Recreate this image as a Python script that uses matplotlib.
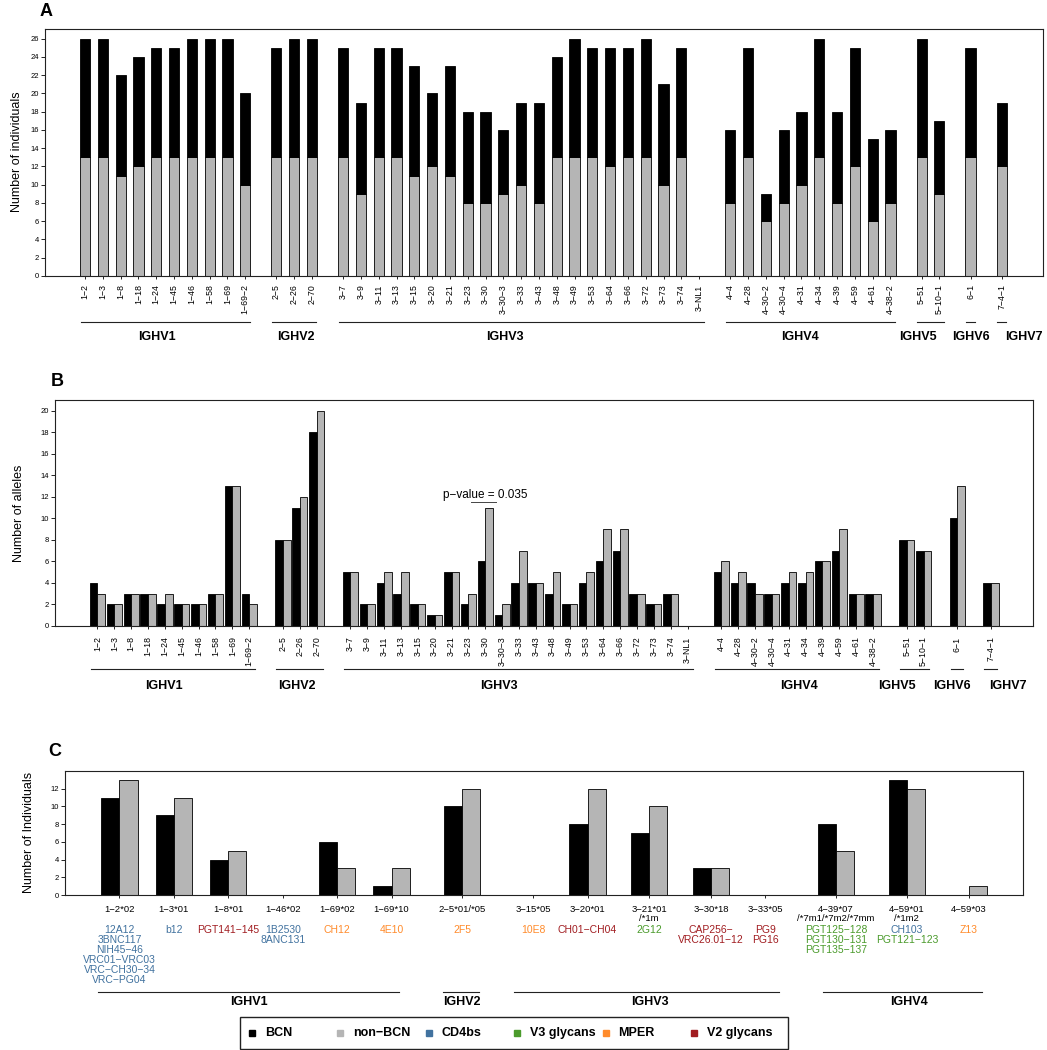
import matplotlib
matplotlib.use("Agg")
import matplotlib.pyplot as plt
import matplotlib.transforms as mtransforms
import numpy as np

plt.rcParams['font.family'] = ['Liberation Sans', 'DejaVu Sans']

W, H = 1047, 1050
MINUS = '\u2212'
GRAY = '#b5b5b5'

# ---- data ----
genes = ["1-2", "1-3", "1-8", "1-18", "1-24", "1-45", "1-46", "1-58", "1-69", "1-69-2",
         "2-5", "2-26", "2-70",
         "3-7", "3-9", "3-11", "3-13", "3-15", "3-20", "3-21", "3-23", "3-30", "3-30-3",
         "3-33", "3-43", "3-48", "3-49", "3-53", "3-64", "3-66", "3-72", "3-73", "3-74", "3-NL1",
         "4-4", "4-28", "4-30-2", "4-30-4", "4-31", "4-34", "4-39", "4-59", "4-61", "4-38-2",
         "5-51", "5-10-1", "6-1", "7-4-1"]

# panel A: number of individuals carrying each gene (stacked)
a_nonbcn = [13, 13, 11, 12, 13, 13, 13, 13, 13, 10,
            13, 13, 13,
            13, 9, 13, 13, 11, 12, 11, 8, 8, 9, 10, 8, 13, 13, 13, 12, 13, 13, 10, 13, 0,
            8, 13, 6, 8, 10, 13, 8, 12, 6, 8,
            13, 9, 13, 12]
a_bcn = [13, 13, 11, 12, 12, 12, 13, 13, 13, 10,
         12, 13, 13,
         12, 10, 12, 12, 12, 8, 12, 10, 10, 7, 9, 11, 11, 13, 12, 13, 12, 13, 11, 12, 0,
         8, 12, 3, 8, 8, 13, 10, 13, 9, 8,
         13, 8, 12, 7]

# panel B: number of alleles
b_bcn = [4, 2, 3, 3, 2, 2, 2, 3, 13, 3,
         8, 11, 18,
         5, 2, 4, 3, 2, 1, 5, 2, 6, 1, 4, 4, 3, 2, 4, 6, 7, 3, 2, 3, 0,
         5, 4, 4, 3, 4, 4, 6, 7, 3, 3,
         8, 7, 10, 4]
b_nonbcn = [3, 2, 3, 3, 3, 2, 2, 3, 13, 2,
            8, 12, 20,
            5, 2, 5, 5, 2, 1, 5, 3, 11, 2, 7, 4, 5, 2, 5, 9, 9, 3, 2, 3, 0,
            6, 5, 3, 3, 5, 5, 6, 9, 3, 3,
            8, 7, 13, 4]

# panel C: alleles used by bNAbs
c_alleles = ["1-2*02", "1-3*01", "1-8*01", "1-46*02", "1-69*02", "1-69*10", "2-5*01/*05",
             "3-15*05", "3-20*01", "3-21*01\n/*1m", "3-30*18", "3-33*05",
             "4-39*07\n/*7m1/*7m2/*7mm", "4-59*01\n/*1m2", "4-59*03"]
c_bcn = [11, 9, 4, 0, 6, 1, 10, 0, 8, 7, 3, 0, 8, 13, 0]
c_nonbcn = [13, 11, 5, 0, 3, 3, 12, 0, 12, 10, 3, 0, 5, 12, 1]
c_antibodies = [
    [("12A12", "CD4bs"), ("3BNC117", "CD4bs"), ("NIH45-46", "CD4bs"),
     ("VRC01-VRC03", "CD4bs"), ("VRC-CH30-34", "CD4bs"), ("VRC-PG04", "CD4bs")],
    [("b12", "CD4bs")],
    [("PGT141-145", "V2 glycans")],
    [("1B2530", "CD4bs"), ("8ANC131", "CD4bs")],
    [("CH12", "MPER")],
    [("4E10", "MPER")],
    [("2F5", "MPER")],
    [("10E8", "MPER")],
    [("CH01-CH04", "V2 glycans")],
    [("2G12", "V3 glycans")],
    [("CAP256-", "V2 glycans"), ("VRC26.01-12", "V2 glycans")],
    [("PG9", "V2 glycans"), ("PG16", "V2 glycans")],
    [("PGT125-128", "V3 glycans"), ("PGT130-131", "V3 glycans"), ("PGT135-137", "V3 glycans")],
    [("CH103", "CD4bs"), ("PGT121-123", "V3 glycans")],
    [("Z13", "MPER")],
]
classes = ["CD4bs", "V3 glycans", "MPER", "V2 glycans"]
class_colors = ["#41729f", "#4b9b2c", "#ff8b2b", "#a11d21"]
color_of = dict(zip(classes, class_colors))

# ---- layout helpers ----
def px_rect(l, t, r, b):
    return [l / W, 1 - b / H, (r - l) / W, (b - t) / H]


def fy(ypx):
    return 1 - ypx / H


def family_positions(names, gap):
    pos, x, prev = [], 0.0, None
    for g in names:
        fam = g.split('-')[0]
        if prev is not None:
            x += gap if fam != prev else 1
        pos.append(x)
        prev = fam
    return np.array(pos)


def style_axes(ax):
    for s in ax.spines.values():
        s.set_linewidth(0.8)
        s.set_color('#222222')
    ax.tick_params(axis='y', labelsize=5.5, length=3, width=0.6, pad=1.5)
    ax.tick_params(axis='x', length=2.5, width=0.6)


def draw_groups(ax, pos, names, pad_l, pad_r, y_line, y_text, label_x):
    tr = mtransforms.blended_transform_factory(ax.transData, fig.transFigure)
    fams = [g.split('-')[0] for g in names]
    order = list(dict.fromkeys(fams))
    for k, fam in enumerate(order):
        idx = [i for i, f in enumerate(fams) if f == fam]
        x0, x1 = pos[idx[0]] - pad_l, pos[idx[-1]] + pad_r
        ax.plot([x0, x1], [fy(y_line)] * 2, transform=tr, color='#222222',
                lw=0.8, clip_on=False)
        ax.text(label_x[k], fy(y_text), 'IGHV' + fam, transform=tr, ha='center',
                va='center', fontsize=9, fontweight='bold')


fig = plt.figure(figsize=(W / 100, H / 100), dpi=100)

# ---- panel A ----
axA = fig.add_axes(px_rect(45, 29, 1043, 276))
posA = family_positions(genes, 1.75)
axA.bar(posA, a_nonbcn, width=0.57, color=GRAY, edgecolor='black', linewidth=0.6)
axA.bar(posA, a_bcn, bottom=a_nonbcn, width=0.57, color='black',
        edgecolor='black', linewidth=0.6)
axA.set_xlim(-2.25, 53.82)
axA.set_ylim(0, 27.05)
axA.set_yticks(range(0, 27, 2))
axA.set_xticks(posA)
axA.set_xticklabels([g.replace('-', MINUS) for g in genes], rotation=90, fontsize=6.3)
style_axes(axA)
axA.tick_params(axis='x', pad=3.5)
draw_groups(axA, posA, genes, 0.25, 0.25, 322, 337,
            [4.05, 11.83, 23.58, 40.15, 46.8, 49.78, 52.75])

# ---- panel B ----
axB = fig.add_axes(px_rect(55, 400, 1033, 626))
posB = family_positions(genes, 2.0)
bw = 0.45
axB.bar(posB - bw, b_bcn, width=bw, align='edge', color='black',
        edgecolor='black', linewidth=0.6)
axB.bar(posB, b_nonbcn, width=bw, align='edge', color=GRAY,
        edgecolor='black', linewidth=0.6)
axB.set_xlim(-2.52, 55.49)
axB.set_ylim(0, 21)
axB.set_yticks(range(0, 21, 2))
axB.set_xticks(posB)
axB.set_xticklabels([g.replace('-', MINUS) for g in genes], rotation=90, fontsize=6.3)
style_axes(axB)
axB.tick_params(axis='x', pad=5)
draw_groups(axB, posB, genes, 0.4, 0.35, 669, 686,
            [3.97, 11.83, 23.8, 41.6, 47.4, 50.7, 54.0])
x330 = posB[genes.index("3-30")]
axB.plot([x330 - 0.85, x330 + 0.65], [11.55, 11.55], color='#444444', lw=0.7)
axB.text(x330, 12.15, "p" + MINUS + "value = 0.035", ha='center', va='center', fontsize=8.5)

# ---- panel C ----
axC = fig.add_axes(px_rect(65, 771, 1023, 895))
c_space = [2, 1, 1, 1, 1, 1, 1.9, 1.9, 1, 1.4, 1.4, 1, 1.9, 1.9, 1.4]
c_left, x = [], 0.0
for s in c_space:
    x += s
    c_left.append(x)
    x += 2
c_left = np.array(c_left)
axC.bar(c_left, c_bcn, width=1, align='edge', color='black', edgecolor='black', linewidth=0.6)
axC.bar(c_left + 1, c_nonbcn, width=1, align='edge', color=GRAY,
        edgecolor='black', linewidth=0.6)
axC.set_xlim(0, x + 2)
axC.set_ylim(0, 14)
axC.set_yticks(range(0, 13, 2))
axC.set_xticks(c_left + 1)
axC.set_xticklabels([a.replace('-', MINUS) for a in c_alleles], fontsize=6.8)
for lbl in axC.get_xticklabels():
    lbl.set_linespacing(1.0)
style_axes(axC)
axC.tick_params(axis='x', pad=5)

trC = mtransforms.blended_transform_factory(axC.transData, fig.transFigure)
for xc, abs_ in zip(c_left + 1, c_antibodies):
    for i, (name, cls) in enumerate(abs_):
        axC.text(xc, fy(930 + 10 * i), name.replace('-', MINUS), transform=trC,
                 ha='center', va='center', fontsize=7.5, color=color_of[cls])

c_group_spans = [(1.83, 18.4), (20.86, 22.8), (24.75, 39.35), (41.76, 50.55)]
c_groups = ["IGHV1", "IGHV2", "IGHV3", "IGHV4"]
c_group_label_x = [10.12, 21.9, 32.25, 46.5]
for (x0, x1), name, lx in zip(c_group_spans, c_groups, c_group_label_x):
    axC.plot([x0, x1], [fy(992)] * 2, transform=trC, color='#222222', lw=0.8, clip_on=False)
    axC.text(lx, fy(1002), name, transform=trC, ha='center', va='center',
             fontsize=9, fontweight='bold')

# ---- legend ----
fig.add_artist(plt.Rectangle((240 / W, fy(1049)), (788 - 240) / W, (1049 - 1017) / H,
                             transform=fig.transFigure, fill=False, lw=1.0,
                             edgecolor='#222222'))
leg_labels = ["BCN", "non" + MINUS + "BCN"] + classes
leg_colors = ["black", GRAY] + class_colors
for i, (lab, col) in enumerate(zip(leg_labels, leg_colors)):
    mx = 252 + 88.4 * i
    fig.add_artist(plt.Line2D([mx / W], [fy(1033)], marker='s', markersize=4,
                              color=col, linestyle='none', transform=fig.transFigure))
    fig.text((mx + 13) / W, fy(1033), lab, ha='left', va='center',
             fontsize=9, fontweight='bold')

# ---- axis titles and panel letters ----
fig.text(17 / W, fy(152), "Number of individuals", rotation=90, ha='center', va='center', fontsize=9)
fig.text(19 / W, fy(513), "Number of alleles", rotation=90, ha='center', va='center', fontsize=9)
fig.text(29 / W, fy(832), "Number of Individuals", rotation=90, ha='center', va='center', fontsize=9)
for letter, lx, ly in [("A", 46, 12), ("B", 57, 382), ("C", 55, 752)]:
    fig.text(lx / W, fy(ly), letter, ha='center', va='center', fontsize=13, fontweight='bold')

fig.savefig("out.png", dpi=100)
